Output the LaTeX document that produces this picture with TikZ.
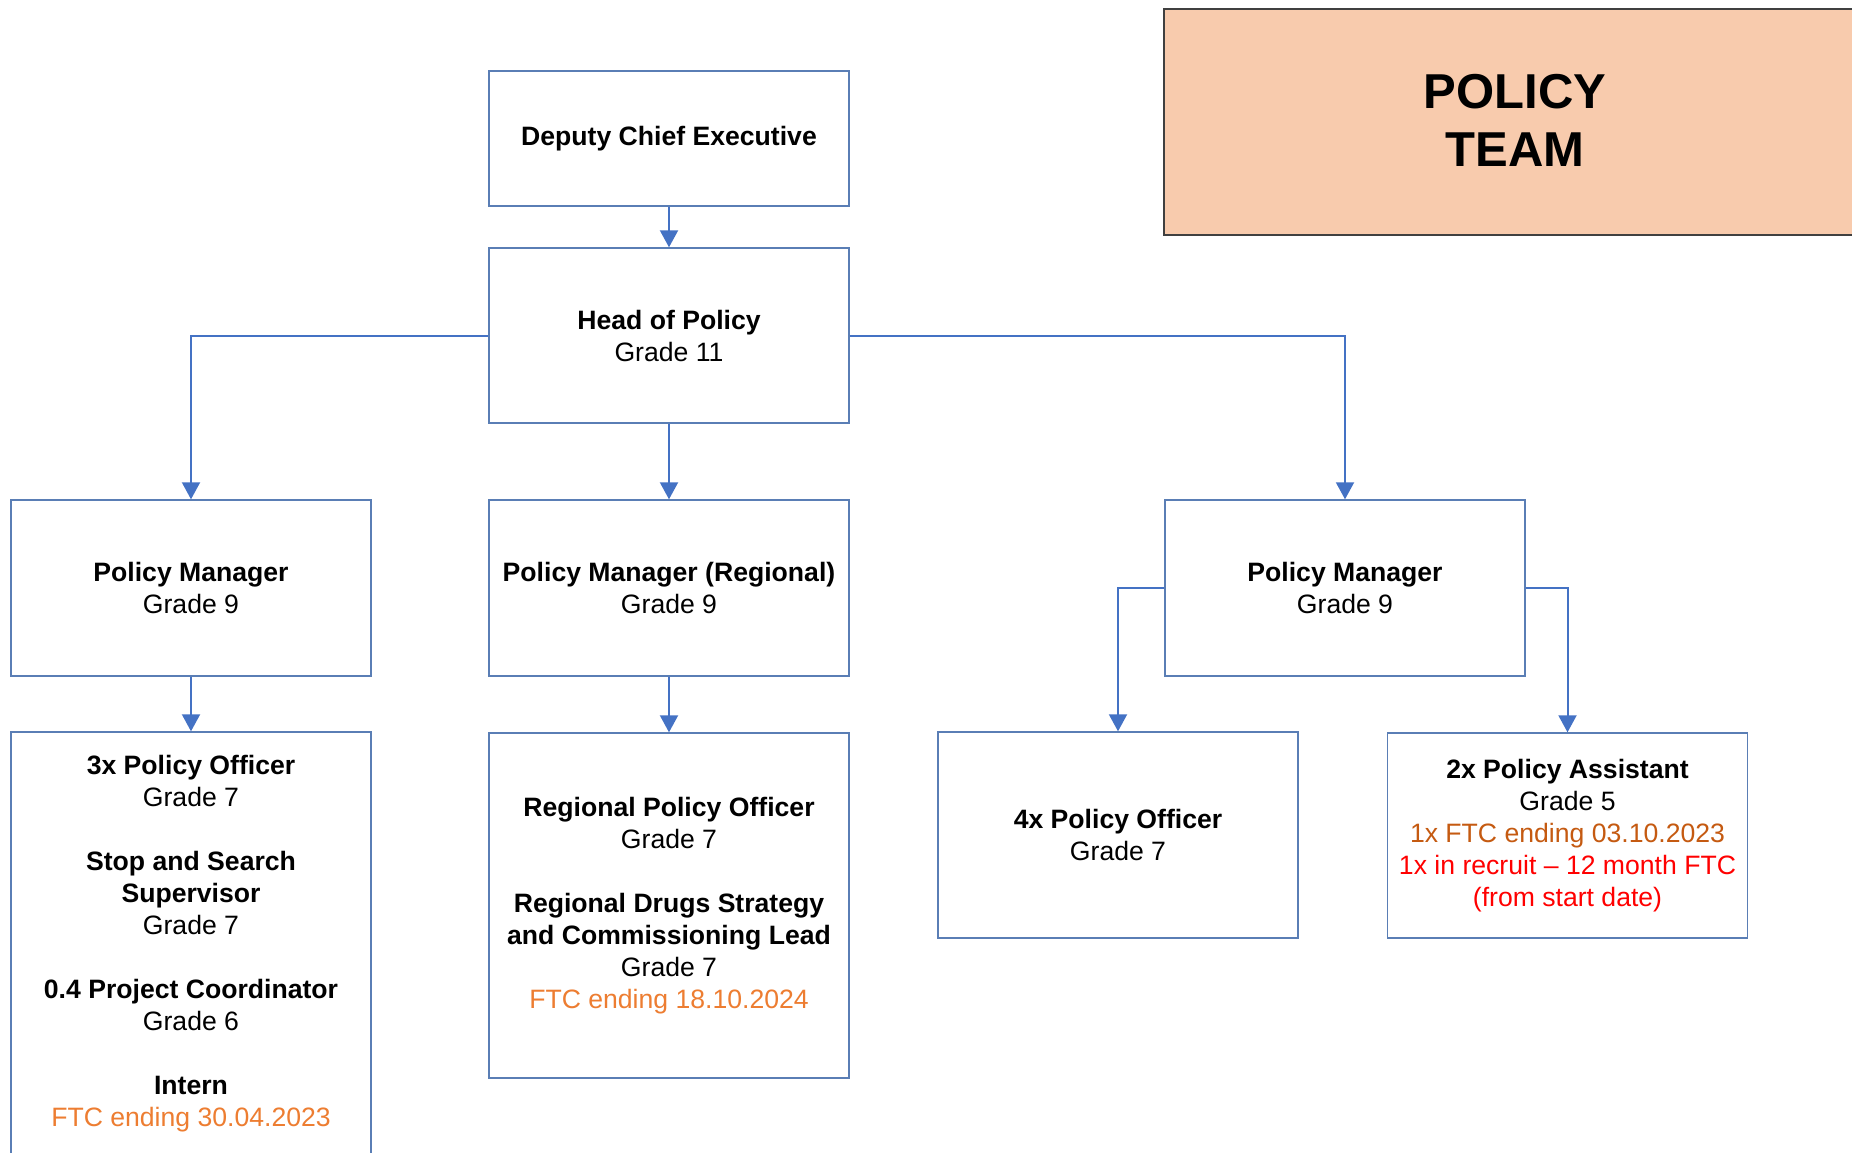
\documentclass[tikz,border=0pt]{standalone}
\usepackage{fontspec}
\setmainfont{Liberation Sans}
\usetikzlibrary{arrows.meta}
\definecolor{boxblue}{HTML}{5A7EB5}
\definecolor{linkblue}{HTML}{4472C4}
\definecolor{ftcorange}{HTML}{ED7D31}
\definecolor{ftcbrown}{HTML}{C55A11}
\definecolor{titlefill}{HTML}{F8CBAD}
\definecolor{titleedge}{HTML}{404040}
\tikzset{
  post/.style={draw=boxblue,line width=0.7pt,fill=white,minimum width=180pt,
    align=center,inner sep=2pt,font=\fontsize{13.3}{16}\selectfont},
  link/.style={draw=linkblue,line width=1pt,-{Triangle[length=8.5pt,width=9pt]}},
}
\begin{document}
\begin{tikzpicture}[x=0.5pt,y=-0.5pt]
  \useasboundingbox (0,0) rectangle (1852,1152);
  % title
  \draw [draw=titleedge,line width=0.6pt,fill=titlefill] (1164,9) rectangle (1900,235);
  \node (title) [align=center,font=\bfseries\fontsize{24.5}{29}\selectfont]
    at (1515,120) {POLICY\\TEAM};
  % posts
  \node [post,minimum height=67.5pt] (dce) at (669,138.5) {\textbf{Deputy Chief Executive}};
  \node [post,minimum height=87.5pt] (hop) at (669,335.5) {\textbf{Head of Policy}\\Grade 11};
  \node [post,minimum height=88pt] (pml) at (191,588) {\textbf{Policy Manager}\\Grade 9};
  \node [post,minimum height=88pt] (pmreg) at (669,588) {\textbf{Policy Manager (Regional)}\\Grade 9};
  \node [post,minimum height=88pt] (pmr) at (1345,588) {\textbf{Policy Manager}\\Grade 9};
  \node [post,minimum height=212pt] (teaml) at (191,944) {\textbf{3x Policy Officer}\\Grade 7\\[16pt]
    \textbf{Stop and Search}\\\textbf{Supervisor}\\Grade 7\\[16pt]
    \textbf{0.4 Project Coordinator}\\Grade 6\\[16pt]
    \textbf{Intern}\\\textcolor{ftcorange}{FTC ending 30.04.2023}};
  \node [post,minimum height=172.5pt] (teamreg) at (669,905.5) {\textbf{Regional Policy Officer}\\Grade 7\\[16pt]
    \textbf{Regional Drugs Strategy}\\\textbf{and Commissioning Lead}\\Grade 7\\
    \textcolor{ftcorange}{FTC ending 18.10.2024}};
  \node [post,minimum height=103pt] (po4) at (1118,835) {\textbf{4x Policy Officer}\\Grade 7};
  \node [post,minimum height=102.5pt] (pa) at (1567.5,835.5) {\textbf{2x Policy Assistant}\\Grade 5\\
    \textcolor{ftcbrown}{1x FTC ending 03.10.2023}\\
    \textcolor{red}{1x in recruit – 12 month FTC}\\\textcolor{red}{(from start date)}};
  % reporting lines
  \draw [link] (dce) -- (hop);
  \draw [link] (hop.west) -| (pml.north);
  \draw [link] (hop) -- (pmreg);
  \draw [link] (hop.east) -| (pmr.north);
  \draw [link] (pml) -- (teaml);
  \draw [link] (pmreg) -- (teamreg);
  \draw [link] (pmr.west) -| (po4.north);
  \draw [link] (pmr.east) -| (pa.north);
\end{tikzpicture}
\end{document}
